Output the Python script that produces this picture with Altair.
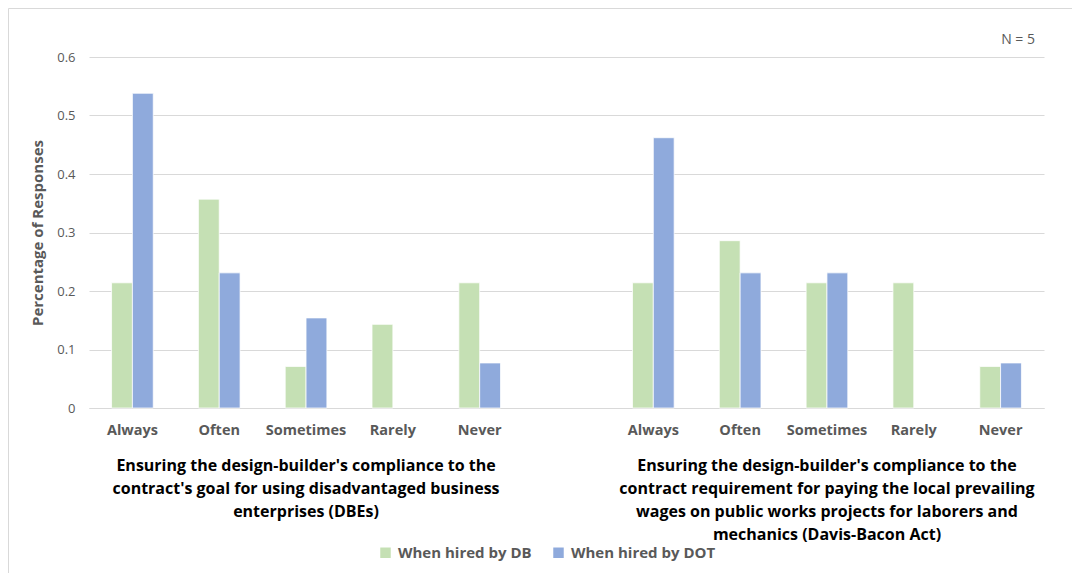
import altair as alt
import pandas as pd

# Survey responses (share of respondents, N = 5 agencies)
categories = ["Always", "Often", "Sometimes", "Rarely", "Never"]
series = ["When hired by DB", "When hired by DOT"]

dbe_db = [0.214, 0.357, 0.071, 0.143, 0.214]
dbe_dot = [0.538, 0.231, 0.154, 0.0, 0.077]
wage_db = [0.214, 0.286, 0.214, 0.214, 0.071]
wage_dot = [0.462, 0.231, 0.231, 0.0, 0.077]

group_titles = [
    "Ensuring the design-builder's compliance to the\ncontract's goal for using disadvantaged business\nenterprises (DBEs)",
    "Ensuring the design-builder's compliance to the\ncontract requirement for paying the local prevailing\nwages on public works projects for laborers and\nmechanics (Davis-Bacon Act)",
]

FONT = "Open Sans"
GREY = "#595959"
GRID = "#D9D9D9"

# Slot keys: five categories per question with an empty slot between them
slots = [f"DBE|{c}" for c in categories] + ["gap"] + [f"WAGE|{c}" for c in categories]

rows = []
for prefix, db_vals, dot_vals in [("DBE", dbe_db, dbe_dot), ("WAGE", wage_db, wage_dot)]:
    for cat, a, b in zip(categories, db_vals, dot_vals):
        for s, v in zip(series, (a, b)):
            if v > 0:
                rows.append({"slot": f"{prefix}|{cat}", "series": s, "value": v})
bars_df = pd.DataFrame(rows)

titles_df = pd.DataFrame({
    "slot": ["DBE|Sometimes", "WAGE|Sometimes"],
    "title": group_titles,
})

x_scale = alt.Scale(domain=slots, paddingInner=0.52, paddingOuter=0.26)

bars = alt.Chart(bars_df).mark_bar(stroke="white", strokeWidth=0.75).encode(
    x=alt.X(
        "slot:N",
        scale=x_scale,
        sort=slots,
        axis=alt.Axis(
            title=None,
            labelExpr="datum.value == 'gap' ? '' : split(datum.value, '|')[1]",
            labelAngle=0,
            labelFont=FONT,
            labelFontSize=14.5,
            labelFontWeight="bold",
            labelColor=GREY,
            labelPadding=15,
            ticks=False,
            domainColor=GRID,
            domainWidth=1,
            grid=False,
        ),
    ),
    xOffset=alt.XOffset("series:N", sort=series, scale=alt.Scale(domain=series)),
    y=alt.Y(
        "value:Q",
        scale=alt.Scale(domain=[0, 0.6]),
        axis=alt.Axis(
            title="Percentage of Responses",
            titleFont=FONT,
            titleFontSize=15,
            titleFontWeight="bold",
            titleColor=GREY,
            titlePadding=11,
            values=[0, 0.1, 0.2, 0.3, 0.4, 0.5, 0.6],
            format="~g",
            labelFont=FONT,
            labelFontSize=13,
            labelColor=GREY,
            labelPadding=14,
            ticks=False,
            domain=False,
            gridColor=GRID,
            gridWidth=1,
        ),
    ),
    color=alt.Color(
        "series:N",
        sort=series,
        scale=alt.Scale(domain=series, range=["#C5E0B4", "#8FAADC"]),
        legend=alt.Legend(
            title=None,
            orient="none",
            direction="horizontal",
            legendX=289,
            legendY=488,
            symbolType="square",
            symbolSize=110,
            symbolStrokeWidth=0,
            labelFont=FONT,
            labelFontSize=15,
            labelFontWeight="bold",
            labelColor=GREY,
            labelOffset=5,
            columnPadding=19,
        ),
    ),
)

titles = alt.Chart(titles_df).mark_text(
    font=FONT,
    fontSize=16,
    fontWeight="bold",
    color="black",
    baseline="top",
    align="center",
    lineBreak="\n",
    lineHeight=23,
).encode(
    x=alt.X("slot:N", scale=x_scale, sort=slots),
    y=alt.value(401),
    text="title:N",
)

n_label = alt.Chart(pd.DataFrame({"t": ["N = 5"]})).mark_text(
    font=FONT, fontSize=14, color=GREY, align="right", baseline="middle"
).encode(
    x=alt.value(946),
    y=alt.value(-17),
    text="t:N",
)

frame = alt.Chart(pd.DataFrame({"k": [0]})).mark_rect(
    fill=None, stroke=GRID, strokeWidth=1
).encode(
    x=alt.value(-80.5),
    x2=alt.value(1000),
    y=alt.value(-48.5),
    y2=alt.value(600),
)

chart = alt.layer(frame, bars, titles, n_label).properties(
    width=955,
    height=351,
    autosize=alt.AutoSizeParams(type="none"),
    padding={"left": 89, "top": 57, "right": 28, "bottom": 165},
    background="white",
).configure_view(stroke=None)

chart.save("out.html", embed_options={"renderer": "svg", "actions": False})
